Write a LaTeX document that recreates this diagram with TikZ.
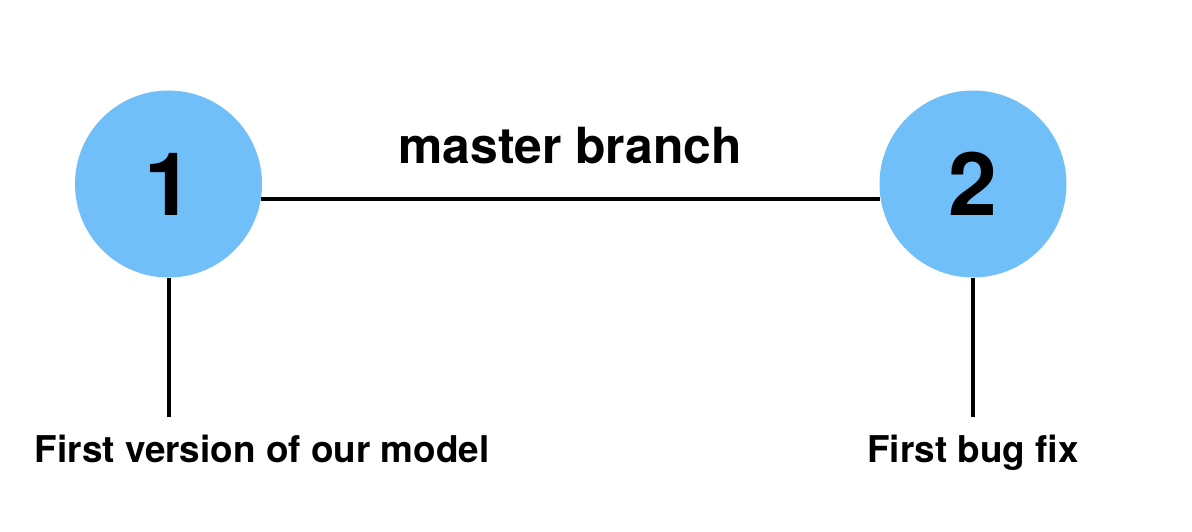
\documentclass[tikz,border=0pt]{standalone}
\usepackage{fontspec}
\setmainfont{TeX Gyre Heros}
\usepackage{xcolor}
\definecolor{commitblue}{RGB}{112,191,249}

\begin{document}
\begin{tikzpicture}[x=1bp, y=1bp,
        commit/.style={circle, fill=commitblue, minimum size=187bp, inner sep=0pt,
            font=\fontsize{88}{88}\selectfont\bfseries},
        tag/.style={inner sep=0pt, anchor=base, font=\fontsize{37}{37}\selectfont\bfseries},
        branch/.style={line width=4bp}]
        \useasboundingbox (0, 0) rectangle (1192, 532);

        \node[commit] (C1) at (168.5, 348) {1};
        \node[commit] (C2) at (973, 348) {2};
        \node[tag, font=\fontsize{50}{50}\selectfont\bfseries] (M) at (570, 368) {master branch};
        \node[tag] (L1) at (262, 69) {First version of our model};
        \node[tag] (L2) at (973, 69) {First bug fix};
        \coordinate (T1) at (168.5, 115);
        \coordinate (T2) at (973, 115);

        \draw[branch] (C1.-9) -- (C2.189);
        \draw[branch] (C1.south) -- (T1);
        \draw[branch] (C2.south) -- (T2);
    \end{tikzpicture}
\end{document}
